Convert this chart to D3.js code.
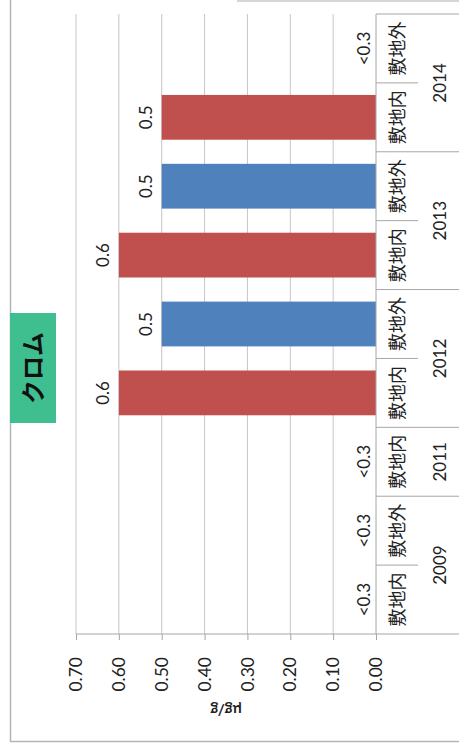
<!DOCTYPE html>
<html>
<head>
<meta charset="utf-8">
<script src="https://cdn.jsdelivr.net/npm/d3@7"></script>
<style>
  html, body { margin: 0; padding: 0; background: #ffffff; }
  svg { display: block; }
</style>
</head>
<body>
<script>
// ---- data ----
const years      = ["2009", "2011", "2012", "2013", "2014"];
const catYear    = ["2009", "2009", "2011", "2012", "2012", "2013", "2013", "2014", "2014"];
const catSite    = ["敷地内", "敷地外", "敷地内", "敷地内", "敷地外", "敷地内", "敷地外", "敷地内", "敷地外"];
const values     = [null, null, null, 0.6, 0.5, 0.6, 0.5, 0.5, null];
const valueLabels= ["<0.3", "<0.3", "<0.3", "0.6", "0.5", "0.6", "0.5", "0.5", "<0.3"];
const yTicks     = [0, 0.1, 0.2, 0.3, 0.4, 0.5, 0.6, 0.7];
const siteColors = { "敷地内": "#C0504D", "敷地外": "#4F81BD" };
const title      = "クロム";
const unitLabel  = "μg/g";

// ---- layout (chart drawn upright, then rotated -90deg) ----
const W = 749, H = 459;          // upright chart size
const svg = d3.select("body").append("svg")
  .attr("width", 459).attr("height", 749);

const g = svg.append("g").attr("transform", `translate(0,${W}) rotate(-90)`);

const numFont = "Lato, 'Open Sans', sans-serif";
const jpFont  = "'Noto Sans CJK JP', 'Noto Sans', sans-serif";

// outer frame
g.append("rect")
  .attr("x", 7.5).attr("y", 10.5).attr("width", 800).attr("height", 600)
  .attr("fill", "none").attr("stroke", "#b4b4b4").attr("stroke-width", 1.5);
g.append("line")
  .attr("x1", 748).attr("x2", 748).attr("y1", 237).attr("y2", 459)
  .attr("stroke", "#c8c8c8").attr("stroke-width", 1.5);

const idx = d3.range(catYear.length);
const x = d3.scaleBand().domain(idx).range([115, 735]).paddingInner(0.35).paddingOuter(0.175);
const y = d3.scaleLinear().domain([0, 0.7]).range([376, 76]);

// gridlines
g.append("g").selectAll("line").data(yTicks.filter(t => t > 0)).join("line")
  .attr("x1", 115).attr("x2", 735)
  .attr("y1", d => y(d)).attr("y2", d => y(d))
  .attr("stroke", "#c6c6c6").attr("stroke-width", 1);

// value axis
const yAxis = g.append("g").attr("transform", "translate(115,0)")
  .call(d3.axisLeft(y).tickValues(yTicks).tickFormat(d3.format(".2f"))
        .tickSizeInner(6).tickSizeOuter(0).tickPadding(17));
yAxis.select(".domain").remove();
yAxis.selectAll(".tick line").attr("stroke", "#a6a6a6");
yAxis.selectAll(".tick text").attr("font-family", numFont).attr("font-size", 17.5).attr("fill", "#222");

// axis line (extends through category label area)
g.append("line").attr("x1", 115).attr("x2", 115).attr("y1", 76).attr("y2", 459)
  .attr("stroke", "#a6a6a6").attr("stroke-width", 1);

// unit label
g.append("text")
  .attr("transform", `translate(39,${y(0.35)}) rotate(-90)`)
  .attr("text-anchor", "middle").attr("dy", "0.35em")
  .attr("font-family", numFont).attr("font-weight", "bold").attr("font-size", 15)
  .attr("fill", "#222").text(unitLabel);

// bars
g.append("g").selectAll("rect").data(idx.filter(i => values[i] != null)).join("rect")
  .attr("x", i => x(i)).attr("width", x.bandwidth())
  .attr("y", i => y(values[i])).attr("height", i => y(0) - y(values[i]))
  .attr("fill", i => siteColors[catSite[i]]);

// value labels
g.append("g").selectAll("text").data(idx).join("text")
  .attr("x", i => x(i) + x.bandwidth() / 2)
  .attr("y", i => values[i] != null ? y(values[i]) - 16 : y(0) - 12)
  .attr("dy", "0.35em").attr("text-anchor", "middle")
  .attr("font-family", numFont).attr("font-size", 17).attr("fill", "#222")
  .text(i => valueLabels[i]);

// category axis baseline
g.append("line").attr("x1", 115).attr("x2", 735).attr("y1", y(0)).attr("y2", y(0))
  .attr("stroke", "#a6a6a6");

// category separators
const step = x.step();
const x0 = 115;
const bounds = d3.range(1, catYear.length + 1);
g.append("g").selectAll("line").data(bounds).join("line")
  .attr("x1", k => x0 + k * step).attr("x2", k => x0 + k * step)
  .attr("y1", y(0))
  .attr("y2", k => (k === catYear.length || catYear[k] !== catYear[k - 1]) ? 459 : 418)
  .attr("stroke", "#a6a6a6");

// inner category labels
g.append("g").selectAll("text").data(idx).join("text")
  .attr("x", i => x(i) + x.bandwidth() / 2).attr("y", 398)
  .attr("dy", "0.35em").attr("text-anchor", "middle")
  .attr("font-family", jpFont).attr("font-size", 18).attr("fill", "#222")
  .text(i => catSite[i]);

// year labels
g.append("g").selectAll("text").data(years).join("text")
  .attr("x", yr => {
    const members = idx.filter(i => catYear[i] === yr);
    return d3.mean(members, i => x(i) + x.bandwidth() / 2);
  })
  .attr("y", 440).attr("dy", "0.35em").attr("text-anchor", "middle")
  .attr("font-family", numFont).attr("font-size", 17).attr("fill", "#222")
  .text(d => d);

// title box
g.append("rect").attr("x", 326).attr("y", 10).attr("width", 110).attr("height", 46)
  .attr("fill", "#3FBF8F");
g.append("text").attr("x", 381).attr("y", 34).attr("dy", "0.35em")
  .attr("text-anchor", "middle").attr("font-family", jpFont)
  .attr("font-weight", "bold").attr("font-size", 24).attr("fill", "#111")
  .text(title);
</script>
</body>
</html>
